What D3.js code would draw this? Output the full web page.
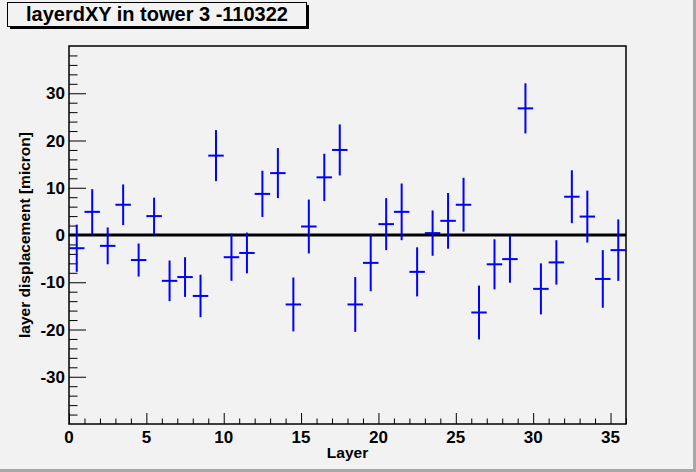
<!DOCTYPE html>
<html>
<head>
<meta charset="utf-8">
<script src="https://cdn.jsdelivr.net/npm/d3@7"></script>
<style>
	body { margin: 0; background: #f2f2f2; }
	text { font-family: "Liberation Sans", Arial, sans-serif; font-weight: bold; }
</style>
</head>
<body>
<svg id="chart"></svg>
<script>
var layers = [0.5, 1.5, 2.5, 3.5, 4.5, 5.5, 6.5, 7.5, 8.5, 9.5, 10.5, 11.5,
	12.5, 13.5, 14.5, 15.5, 16.5, 17.5, 18.5, 19.5, 20.5, 21.5, 22.5, 23.5,
	24.5, 25.5, 26.5, 27.5, 28.5, 29.5, 30.5, 31.5, 32.5, 33.5, 34.5, 35.5];
var displacement = [-2.8, 4.9, -2.3, 6.4, -5.3, 4.0, -9.7, -8.9, -12.9, 16.8, -4.7, -3.8,
	8.7, 13.1, -14.7, 1.8, 12.2, 18.0, -14.7, -5.9, 2.3, 4.9, -7.8, 0.4,
	3.0, 6.4, -16.4, -6.2, -5.1, 26.8, -11.4, -5.8, 8.1, 3.9, -9.3, -3.2];
var errors = [5.0, 4.8, 3.9, 4.3, 3.5, 3.9, 4.3, 4.2, 4.5, 5.4, 5.0, 4.3,
	4.9, 5.3, 5.7, 5.7, 5.0, 5.4, 5.8, 6.0, 5.5, 6.0, 5.2, 4.8,
	5.9, 5.7, 5.7, 5.3, 5.0, 5.3, 5.4, 4.7, 5.6, 5.5, 6.1, 6.5];
var xTicks = [0, 5, 10, 15, 20, 25, 30, 35];
var yTicks = [-30, -20, -10, 0, 10, 20, 30];
var title = "layerdXY in tower 3 -110322";

var W = 696;
var H = 472;
var margin = {
	left: 69,
	right: 70,
	top: 46,
	bottom: 48
};

var data = layers.map(function (d, i) {
	return { x: d, y: displacement[i], err: errors[i] };
});

var svg = d3.select("#chart")
	.attr("width", W)
	.attr("height", H);

// canvas with ROOT bevel edges
svg.append("rect")
	.attr("width", W)
	.attr("height", H)
	.attr("fill", "#f2f2f2");
svg.append("rect")
	.attr("x", W - 3).attr("y", 0)
	.attr("width", 3).attr("height", H)
	.attr("fill", "#a8a8a8");
svg.append("rect")
	.attr("x", 0).attr("y", H - 3)
	.attr("width", W).attr("height", 3)
	.attr("fill", "#a8a8a8");

var xScale = d3.scaleLinear()
	.domain([0, 36])
	.range([margin.left, W - margin.right]);
var yScale = d3.scaleLinear()
	.domain([-40, 40])
	.range([H - margin.bottom, margin.top]);

// frame
svg.append("rect")
	.attr("x", xScale(0))
	.attr("y", yScale(40))
	.attr("width", xScale(36) - xScale(0))
	.attr("height", yScale(-40) - yScale(40))
	.attr("fill", "#f2f2f2")
	.attr("stroke", "black")
	.attr("stroke-width", 1.5);

// x axis ticks (inside the frame, ROOT style)
var xAxis = d3.axisBottom(xScale)
	.tickValues(d3.range(0, 37, 1))
	.tickSize(0)
	.tickFormat("");
var gx = svg.append("g")
	.classed("xAxis", true)
	.attr("transform", "translate(0," + yScale(-40) + ")")
	.call(xAxis);
gx.select(".domain").remove();
gx.selectAll(".tick line")
	.attr("y2", function (d) { return d % 5 === 0 ? -11 : -5.5; })
	.attr("stroke", "black")
	.attr("stroke-width", 1);
svg.selectAll(".xlabel")
	.data(xTicks)
	.enter()
	.append("text")
	.classed("xlabel", true)
	.attr("x", function (d) { return xScale(d); })
	.attr("y", 443)
	.attr("text-anchor", "middle")
	.attr("font-size", 17)
	.text(function (d) { return d; });

var yAxis = d3.axisLeft(yScale)
	.tickValues(d3.range(-38, 40, 2))
	.tickSize(0)
	.tickFormat("");
var gy = svg.append("g")
	.classed("yAxis", true)
	.attr("transform", "translate(" + xScale(0) + ",0)")
	.call(yAxis);
gy.select(".domain").remove();
gy.selectAll(".tick line")
	.attr("x2", function (d) { return d % 10 === 0 ? 17 : 8.5; })
	.attr("stroke", "black")
	.attr("stroke-width", 1);
svg.selectAll(".ylabel")
	.data(yTicks)
	.enter()
	.append("text")
	.classed("ylabel", true)
	.attr("x", 65)
	.attr("y", function (d) { return yScale(d); })
	.attr("dy", "0.36em")
	.attr("text-anchor", "end")
	.attr("font-size", 17)
	.text(function (d) { return d; });

// axis titles
svg.append("text")
	.attr("x", (xScale(0) + xScale(36)) / 2)
	.attr("y", 458)
	.attr("text-anchor", "middle")
	.attr("font-size", 15.5)
	.text("Layer");
svg.append("text")
	.attr("transform", "translate(30," + yScale(0) + ") rotate(-90)")
	.attr("text-anchor", "middle")
	.attr("font-size", 15.5)
	.text("layer displacement [micron]");

// zero line
svg.append("line")
	.attr("x1", xScale(0))
	.attr("x2", xScale(36))
	.attr("y1", yScale(0))
	.attr("y2", yScale(0))
	.attr("stroke", "black")
	.attr("stroke-width", 3);

// error crosses
var pts = svg.selectAll(".pt")
	.data(data)
	.enter()
	.append("g")
	.classed("pt", true);
pts.append("line")
	.attr("x1", function (d) { return xScale(d.x - 0.5); })
	.attr("x2", function (d) { return xScale(d.x + 0.5); })
	.attr("y1", function (d) { return yScale(d.y); })
	.attr("y2", function (d) { return yScale(d.y); })
	.attr("stroke", "#0000ff")
	.attr("stroke-width", 2);
pts.append("line")
	.attr("x1", function (d) { return xScale(d.x); })
	.attr("x2", function (d) { return xScale(d.x); })
	.attr("y1", function (d) { return yScale(d.y + d.err); })
	.attr("y2", function (d) { return yScale(d.y - d.err); })
	.attr("stroke", "#0000ff")
	.attr("stroke-width", 2);

// title box with shadow
svg.append("rect")
	.attr("x", 10).attr("y", 5)
	.attr("width", 299).attr("height", 24)
	.attr("fill", "black");
svg.append("rect")
	.attr("x", 7.5).attr("y", 2.5)
	.attr("width", 299).attr("height", 24)
	.attr("fill", "#f2f2f2")
	.attr("stroke", "black")
	.attr("stroke-width", 1);
svg.append("text")
	.attr("x", 157)
	.attr("y", 21)
	.attr("text-anchor", "middle")
	.attr("font-size", 20)
	.text(title);
</script>
</body>
</html>
